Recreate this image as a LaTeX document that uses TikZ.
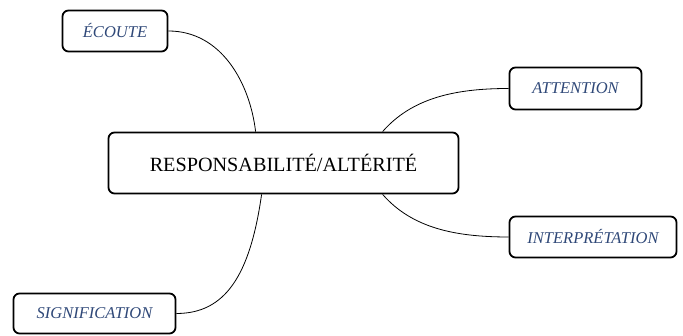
\documentclass[tikz,border=0pt]{standalone}
\usepackage{fontspec}
\setmainfont{Liberation Serif}
\usepackage{tikz}
\definecolor{etiquette}{RGB}{47,72,120}

\begin{document}
\begin{tikzpicture}[x=1pt,y=1pt,
		boite/.style={draw,black,line width=1.8pt,rounded corners=6pt,inner sep=0pt},
		petite/.style={boite,font=\fontsize{16.5}{19}\selectfont\itshape,text=etiquette},
		lien/.style={draw,black,line width=0.8pt}]
			\useasboundingbox (0,0) rectangle (683,336);
			\node[boite,minimum width=350,minimum height=61,font=\fontsize{20.2}{24}\selectfont] (c) at (283.5,173) {RESPONSABILITÉ/ALTÉRITÉ};
			\node[petite,minimum width=105,minimum height=41] (e) at (115,305) {ÉCOUTE};
			\node[petite,minimum width=132,minimum height=42] (a) at (575.5,247.5) {ATTENTION};
			\node[petite,minimum width=167,minimum height=41] (i) at (593,99) {INTERPRÉTATION};
			\node[petite,minimum width=162,minimum height=40] (s) at (94.5,22.5) {SIGNIFICATION};
			\draw[lien] (e.east) .. controls (222,305) and (250,252) .. ([xshift=148pt]c.north west);
			\draw[lien] ([xshift=275pt]c.north west) .. controls (412,238) and (455,247.5) .. (a.west);
			\draw[lien] ([xshift=275pt]c.south west) .. controls (412,108) and (455,99) .. (i.west);
			\draw[lien] ([xshift=154pt]c.south west) .. controls (250,60) and (225,22.5) .. (s.east);
		\end{tikzpicture}
\end{document}
